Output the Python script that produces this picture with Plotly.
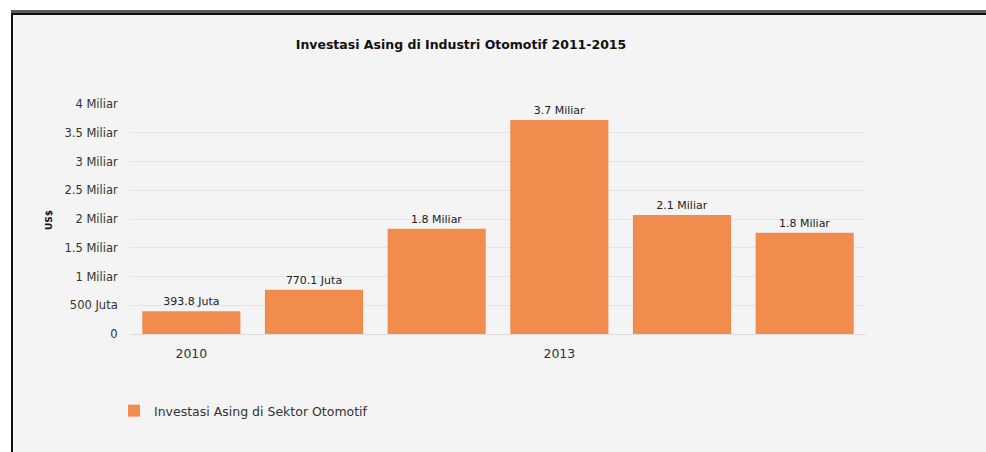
import plotly.graph_objects as go

years = ["2010", "2011", "2012", "2013", "2014", "2015"]
values = [393.8e6, 770.1e6, 1.83e9, 3.72e9, 2.07e9, 1.76e9]
value_labels = ["393.8 Juta", "770.1 Juta", "1.8 Miliar", "3.7 Miliar", "2.1 Miliar", "1.8 Miliar"]
ytick_vals = [0, 0.5e9, 1e9, 1.5e9, 2e9, 2.5e9, 3e9, 3.5e9, 4e9]
ytick_text = ["0", "500 Juta", "1 Miliar", "1.5 Miliar", "2 Miliar", "2.5 Miliar", "3 Miliar", "3.5 Miliar", "4 Miliar"]
xtick_shown = ["2010", "2013"]
series_name = "Investasi Asing di Sektor Otomotif"
title = "Investasi Asing di Industri Otomotif 2011-2015"

W, H = 986, 452
L, R, T, B = 130, 120, 104, 118
PW, PH = W - L - R, H - T - B

def px(x):
    return (x - L) / PW

def py(y):
    return 1 - (y - T) / PH

FONT = "DejaVu Sans, Verdana, sans-serif"
ORANGE = "#F28C4E"

fig = go.Figure()
fig.add_trace(go.Bar(
    x=years, y=values, name=series_name,
    marker=dict(color=ORANGE, line=dict(width=0)),
    text=value_labels, textposition="outside",
    textfont=dict(size=11, color="#222", family=FONT),
    cliponaxis=False, width=0.8,
    showlegend=True,
))

shapes = [
    dict(type="rect", xref="paper", yref="paper", x0=px(0), x1=px(W), y0=py(0), y1=py(10),
         fillcolor="white", line=dict(width=0), layer="below"),
    dict(type="rect", xref="paper", yref="paper", x0=px(0), x1=px(11), y0=py(0), y1=py(H),
         fillcolor="white", line=dict(width=0), layer="below"),
    dict(type="rect", xref="paper", yref="paper", x0=px(11), x1=px(W), y0=py(10), y1=py(13),
         fillcolor="#5a5a5a", line=dict(width=0), layer="below"),
    dict(type="rect", xref="paper", yref="paper", x0=px(11), x1=px(W), y0=py(13), y1=py(15),
         fillcolor="#111", line=dict(width=0), layer="below"),
    dict(type="rect", xref="paper", yref="paper", x0=px(11), x1=px(13), y0=py(13), y1=py(H),
         fillcolor="#111", line=dict(width=0), layer="below"),
]

fig.update_layout(
    width=W, height=H,
    margin=dict(l=L, r=R, t=T, b=B, pad=0),
    paper_bgcolor="#f4f4f4", plot_bgcolor="#f4f4f4",
    font=dict(family=FONT, color="#333", size=11),
    title=dict(text="<b>" + title + "</b>", xref="container", x=461 / W, xanchor="center",
               yref="container", y=1 - 45 / H, yanchor="middle",
               font=dict(size=12.5, color="#111", family=FONT)),
    bargap=0.2,
    xaxis=dict(type="category", categoryorder="array", categoryarray=years,
               tickmode="array", tickvals=xtick_shown, ticktext=xtick_shown,
               showgrid=False, showline=False, zeroline=False,
               ticks="outside", ticklen=8, tickcolor="rgba(0,0,0,0)",
               tickfont=dict(size=12.5, color="#333", family=FONT)),
    yaxis=dict(range=[0, 4e9], tickmode="array", tickvals=ytick_vals, ticktext=ytick_text,
               showgrid=True, gridcolor="#e4e4e4", gridwidth=1,
               zeroline=True, zerolinecolor="#dcdcdc", zerolinewidth=1,
               showline=False, ticks="outside", ticklen=9, tickcolor="rgba(0,0,0,0)",
               tickfont=dict(size=11.5, color="#333", family=FONT)),
    legend=dict(orientation="h", x=px(114), xanchor="left", y=py(411), yanchor="middle",
                bgcolor="rgba(0,0,0,0)", font=dict(size=12.5, color="#333", family=FONT)),
    shapes=shapes,
    annotations=[dict(text="<b>US$</b>", xref="paper", yref="paper",
                      x=px(42), y=py(220), textangle=-90, showarrow=False,
                      font=dict(size=9, color="#111", family=FONT))],
)

fig.write_html("out.html")
